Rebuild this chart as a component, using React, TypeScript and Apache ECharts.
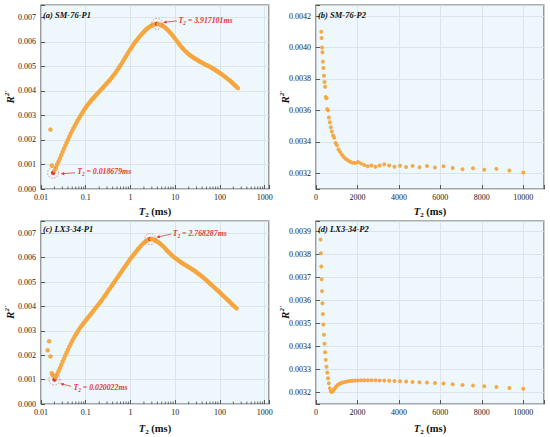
import React, { useEffect, useRef } from "react";
import * as echarts from "echarts";

// T2 grid (ms), index 0 corresponds to grid step k = 5
const K0 = 5;
const T2_MS = [
  0.01415, 0.01517, 0.01626, 0.01743, 0.018679, 0.020022, 0.02146, 0.023, 0.02466, 0.02643,
  0.02833, 0.03037, 0.03255, 0.03489, 0.0374, 0.04009, 0.04297, 0.04606, 0.04937, 0.05292,
  0.05672, 0.0608, 0.06517, 0.06986, 0.07488, 0.08026, 0.08603, 0.09222, 0.09885, 0.106,
  0.1136, 0.1217, 0.1305, 0.1399, 0.1499, 0.1607, 0.1723, 0.1846, 0.1979, 0.2121,
  0.2274, 0.2437, 0.2613, 0.2801, 0.3002, 0.3218, 0.3449, 0.3697, 0.3963, 0.4248,
  0.4553, 0.488, 0.5231, 0.5607, 0.601, 0.6442, 0.6906, 0.7402, 0.7934, 0.8505,
  0.9116, 0.9771, 1.047, 1.123, 1.203, 1.29, 1.383, 1.482, 1.589, 1.703,
  1.825, 1.956, 2.097, 2.248, 2.409, 2.583, 2.768287, 2.967, 3.181, 3.409,
  3.654, 3.917101, 4.199, 4.501, 4.824, 5.171, 5.543, 5.941, 6.368, 6.826,
  7.317, 7.843, 8.407, 9.011, 9.659, 10.35, 11.1, 11.9, 12.75, 13.67,
  14.65, 15.7, 16.83, 18.04, 19.34, 20.73, 22.22, 23.82, 25.53, 27.36,
  29.33, 31.44, 33.7, 36.12, 38.72, 41.5, 44.49, 47.69, 51.11, 54.79,
  58.73, 62.95, 67.48, 72.33, 77.53, 83.1, 89.07, 95.48, 102.3, 109.7,
  117.6, 126.0, 135.1, 144.8, 155.2, 166.4, 178.3, 191.2, 204.9, 219.6,
  235.4, 252.4, 270.5, 289.9, 310.8, 333.1, 357.1, 382.8, 410.3, 439.8,
  471.4, 505.3, 541.6, 580.5, 622.3, 667.0, 714.9, 766.3, 821.4, 880.5,
  943.8, 1011.6, 1084.4, 1162.3, 1245.9, 1335.4, 1431.5, 1534.4, 1644.7, 1762.9,
  1889.7, 2025.5, 2171.1, 2327.2, 2494.5, 2673.8, 2866.1, 3072.1, 3293.0, 3529.7,
  3783.5, 4055.5, 4347.0, 4659.5, 4994.5, 5353.6, 5738.4, 6151.0, 6593.2, 7067.2,
  7575.3, 8119.8, 8703.6, 9329.3, 10000,
];

// (a) SM-76-P1, starts at k = 7
const A_START = 7;
const A_R2 = [
  0.00242, 0.00096, 0.00066, 0.00076, 0.00088, 0.001, 0.00112, 0.00125, 0.00138, 0.00151,
  0.00164, 0.00177, 0.00189, 0.00201, 0.00213, 0.00225, 0.00236, 0.00247, 0.00257, 0.00267,
  0.00277, 0.00287, 0.00296, 0.00305, 0.00314, 0.00323, 0.00331, 0.00339, 0.00346, 0.00353,
  0.0036, 0.00366, 0.00372, 0.00378, 0.00384, 0.0039, 0.00396, 0.00402, 0.00408, 0.00414,
  0.0042, 0.00426, 0.00432, 0.00438, 0.00444, 0.00451, 0.00458, 0.00465, 0.00472, 0.0048,
  0.00488, 0.00496, 0.00505, 0.00514, 0.00523, 0.00532, 0.00541, 0.0055, 0.00559, 0.00568,
  0.00576, 0.00584, 0.00592, 0.006, 0.00607, 0.00614, 0.00621, 0.00627, 0.00633, 0.00639,
  0.00645, 0.0065, 0.00655, 0.00659, 0.00663, 0.00666, 0.00669, 0.00671, 0.00672, 0.00673,
  0.00672, 0.00671, 0.00669, 0.00666, 0.00662, 0.00658, 0.00653, 0.00648, 0.00642, 0.00636,
  0.0063, 0.00623, 0.00616, 0.00608, 0.00601, 0.00594, 0.00587, 0.0058, 0.00574, 0.00568,
  0.00562, 0.00557, 0.00552, 0.00547, 0.00543, 0.00539, 0.00536, 0.00532, 0.00529, 0.00526,
  0.00522, 0.00519, 0.00516, 0.00513, 0.0051, 0.00507, 0.00504, 0.00502, 0.00499, 0.00496,
  0.00492, 0.00489, 0.00486, 0.00482, 0.00479, 0.00475, 0.00472, 0.00468, 0.00464, 0.00459,
  0.00455, 0.00451, 0.00446, 0.00442, 0.00437, 0.00432, 0.00427, 0.00422, 0.00417, 0.00411,
];

// (b) SM-76-P2, starts at k = 146
const B_START = 146;
const B_R2 = [
  0.0041, 0.00406, 0.004, 0.00397, 0.00391, 0.00387, 0.00382, 0.00378, 0.00375, 0.003685,
  0.003677, 0.003608, 0.0036, 0.003555, 0.003524, 0.003493, 0.003466, 0.00344, 0.003426, 0.003392,
  0.003378, 0.003351, 0.003336, 0.003319, 0.003304, 0.003292, 0.003283, 0.003273, 0.003267, 0.003265,
  0.003272, 0.003262, 0.003252, 0.003245, 0.00325, 0.003242, 0.00325, 0.003258, 0.00325, 0.003242,
  0.003248, 0.00324, 0.003247, 0.003238, 0.003246, 0.003237, 0.003244, 0.003234, 0.003225, 0.003232,
  0.003222, 0.003228, 0.003218, 0.003205,
];

// (c) LX3-34-P1, starts at k = 5
const C_START = 5;
const C_R2 = [
  0.0022, 0.00257, 0.00195, 0.00126, 0.00116, 0.001, 0.0011, 0.00122, 0.00134, 0.00147,
  0.0016, 0.00173, 0.00186, 0.00199, 0.00211, 0.00223, 0.00235, 0.00246, 0.00257, 0.00267,
  0.00277, 0.00286, 0.00295, 0.00304, 0.00312, 0.0032, 0.00327, 0.00334, 0.00341, 0.00348,
  0.00355, 0.00362, 0.00369, 0.00376, 0.00383, 0.0039, 0.00397, 0.00404, 0.00411, 0.00418,
  0.00425, 0.00433, 0.00441, 0.00449, 0.00457, 0.00465, 0.00473, 0.00481, 0.00489, 0.00497,
  0.00505, 0.00513, 0.00521, 0.00529, 0.00537, 0.00545, 0.00553, 0.00561, 0.00569, 0.00577,
  0.00585, 0.00593, 0.006, 0.00607, 0.00614, 0.00621, 0.00628, 0.00635, 0.00641, 0.00648,
  0.00654, 0.00659, 0.00664, 0.00668, 0.00672, 0.00675, 0.00676, 0.00676, 0.00675, 0.00673,
  0.0067, 0.00667, 0.00663, 0.00659, 0.00654, 0.00649, 0.00644, 0.00638, 0.00631, 0.00626,
  0.0062, 0.00615, 0.0061, 0.00605, 0.006, 0.00596, 0.00592, 0.00588, 0.00584, 0.0058,
  0.00577, 0.00573, 0.0057, 0.00566, 0.00563, 0.00559, 0.00556, 0.00552, 0.00549, 0.00545,
  0.00541, 0.00537, 0.00533, 0.00529, 0.00524, 0.0052, 0.00515, 0.0051, 0.00505, 0.005,
  0.00495, 0.0049, 0.00485, 0.0048, 0.00475, 0.0047, 0.00465, 0.0046, 0.00455, 0.0045,
  0.00444, 0.00439, 0.00434, 0.00429, 0.00423, 0.00418, 0.00413, 0.00407, 0.00402, 0.00397,
  0.00392,
];

// (d) LX3-34-P2, starts at k = 144
const D_START = 144;
const D_R2 = [
  0.003865, 0.003806, 0.003748, 0.003693, 0.003641, 0.003588, 0.003541, 0.003496, 0.003451, 0.003412,
  0.003375, 0.003342, 0.003312, 0.003287, 0.003262, 0.00324, 0.003218, 0.003205, 0.003202, 0.003207,
  0.003215, 0.003223, 0.00323, 0.003235, 0.003239, 0.003242, 0.003245, 0.003247, 0.003249, 0.00325,
  0.003251, 0.003252, 0.003252, 0.003253, 0.003253, 0.003253, 0.003253, 0.003253, 0.003252, 0.003252,
  0.003251, 0.00325, 0.003249, 0.003248, 0.003246, 0.003245, 0.003243, 0.003241, 0.003239, 0.003236,
  0.003233, 0.00323, 0.003227, 0.003224, 0.00322, 0.003216,
];

const PANEL_TITLES = ["(a) SM-76-P1", "(b) SM-76-P2", "(c) LX3-34-P1", "(d) LX3-34-P2"];
const LOG_LABELS = ["0.01", "0.1", "1", "10", "100", "1000"];
const MINOR_TICKS = [
  0.02, 0.03, 0.04, 0.05, 0.06, 0.07, 0.08, 0.09,
  0.2, 0.3, 0.4, 0.5, 0.6, 0.7, 0.8, 0.9,
  2, 3, 4, 5, 6, 7, 8, 9,
  20, 30, 40, 50, 60, 70, 80, 90,
  200, 300, 400, 500, 600, 700, 800, 900,
];

// annotated minima / maxima: panel, grid step k, label
const ANNOTATIONS = [
  { panel: 0, k: 9, label: "0.018679ms", tip: [7.5, 1], tail: [22, 0], text: [24, -1] },
  { panel: 0, k: 86, label: "3.917101ms", tip: [6, -1.5], tail: [20, -3], text: [21.5, -3] },
  { panel: 2, k: 10, label: "0.020022ms", tip: [5.6, 4], tail: [16.6, 6.7], text: [19, 7.4] },
  { panel: 2, k: 81, label: "2.768287ms", tip: [6, -1.7], tail: [21, -5], text: [22.5, -5.7] },
];

const FONT = '"Liberation Serif", "Times New Roman", serif';
const ORANGE = "#f5a53c";
const RED = "#e23a36";

const PANELS = [
  { start: A_START, values: A_R2 },
  { start: B_START, values: B_R2 },
  { start: C_START, values: C_R2 },
  { start: D_START, values: D_R2 },
];

function pointOf(panel: number, k: number): [number, number] {
  const p = PANELS[panel];
  return [T2_MS[k - K0], p.values[k - p.start]];
}

const tickLabel = { fontFamily: FONT, fontSize: 8, color: "#222" };

const xNameRich = {
  t: { fontFamily: FONT, fontSize: 10.5, fontWeight: "bold", fontStyle: "italic", color: "#111", lineHeight: 14 },
  s: { fontFamily: FONT, fontSize: 7, fontWeight: "bold", color: "#111", lineHeight: 7, verticalAlign: "bottom" },
  n: { fontFamily: FONT, fontSize: 10.5, fontWeight: "bold", color: "#111", lineHeight: 14 },
};
const yNameRich = {
  r: { fontFamily: FONT, fontSize: 11, fontWeight: "bold", fontStyle: "italic", color: "#111", lineHeight: 14 },
  s: { fontFamily: FONT, fontSize: 7, fontWeight: "bold", fontStyle: "italic", color: "#111", lineHeight: 7, verticalAlign: "top" },
};

function isMultiple(v: number, step: number) {
  const q = v / step;
  return Math.abs(q - Math.round(q)) < 1e-6;
}

export default function App() {
  const ref = useRef<HTMLDivElement>(null);

  useEffect(() => {
    if (!ref.current) return;
    const chart = echarts.init(ref.current, undefined, { renderer: "svg" });

    const gridBoxes = [
      { left: 41, top: 5, width: 228, height: 184 },
      { left: 316, top: 5, width: 228, height: 184 },
      { left: 41, top: 221, width: 228, height: 183 },
      { left: 316, top: 221, width: 228, height: 183 },
    ];
    const grid = gridBoxes.map((g) => ({
      ...g,
      show: true,
      backgroundColor: "#eef7fb",
      borderColor: "#5c5c5c",
      borderWidth: 1.2,
      containLabel: false,
      outerBoundsMode: "none",
    }));

    const common = (i: number) => ({
      gridIndex: i,
      axisLine: { show: false },
      axisTick: { show: true, inside: true, length: 4, lineStyle: { color: "#333", width: 0.8 } },
      splitLine: { show: true, lineStyle: { color: "#d5dfe5", width: 0.8 } },
      nameMoveOverlap: false,
    });

    const xName = {
      name: "{t|T}{s|2}{n| (ms)}",
      nameLocation: "middle",
      nameTextStyle: { rich: xNameRich },
    };

    const xAxis = [0, 1, 2, 3].map((i) => {
      const gap = i < 2 ? 15 : 17;
      if (i === 0 || i === 2) {
        return {
          ...common(i),
          ...xName,
          nameGap: gap,
          type: "log",
          logBase: 10,
          min: 0.01,
          max: 1250,
          axisLabel: {
            ...tickLabel,
            margin: 4,
            formatter: (v: number) => {
              const e = Math.log10(v);
              if (Math.abs(e - Math.round(e)) > 0.01) return "";
              return LOG_LABELS[Math.round(e) + 2] ?? "";
            },
          },
        };
      }
      return {
        ...common(i),
        ...xName,
        nameGap: gap,
        type: "value",
        min: 0,
        max: 11000,
        interval: 2000,
        axisLabel: {
          ...tickLabel,
          margin: 4,
          formatter: (v: number) => (isMultiple(v, 2000) ? String(Math.round(v)) : ""),
        },
      };
    });

    const yName = {
      name: "{r|R}{s|2'}",
      nameLocation: "middle",
      nameRotate: 90,
      nameGap: 24,
      nameTextStyle: { rich: yNameRich },
    };

    const yAxis = [
      {
        ...common(0), ...yName, type: "value", min: 0, max: 0.0075, interval: 0.001,
        axisLabel: { ...tickLabel, margin: 5, formatter: (v: number) => (isMultiple(v, 0.001) ? v.toFixed(3) : "") },
      },
      {
        ...common(1), ...yName, type: "value", min: 0.0031, max: 0.00427, splitNumber: 6,
        axisLabel: { ...tickLabel, margin: 5, formatter: (v: number) => (isMultiple(v, 0.0002) ? v.toFixed(4) : "") },
      },
      {
        ...common(2), ...yName, type: "value", min: 0, max: 0.0075, interval: 0.001,
        axisLabel: { ...tickLabel, margin: 5, formatter: (v: number) => (isMultiple(v, 0.001) ? v.toFixed(3) : "") },
      },
      {
        ...common(3), ...yName, type: "value", min: 0.00315, max: 0.003946, splitNumber: 8,
        axisLabel: { ...tickLabel, margin: 5, formatter: (v: number) => (isMultiple(v, 0.0001) ? v.toFixed(4) : "") },
      },
    ];

    const highlighted = new Set(ANNOTATIONS.map((a) => `${a.panel}-${a.k}`));

    const scatterSeries = PANELS.map((p, i) => ({
      type: "scatter",
      xAxisIndex: i,
      yAxisIndex: i,
      symbol: "circle",
      symbolSize: i === 0 || i === 2 ? 4.5 : 4,
      itemStyle: { color: ORANGE, opacity: 0.95 },
      z: 3,
      data: p.values.map((v, j) => {
        const k = p.start + j;
        const item: any = { value: [T2_MS[k - K0], v] };
        if (highlighted.has(`${i}-${k}`)) item.itemStyle = { color: RED, opacity: 1 };
        return item;
      }),
    }));

    const minorTickSeries = [0, 2].map((i) => ({
      type: "custom",
      coordinateSystem: "cartesian2d",
      xAxisIndex: i,
      yAxisIndex: i,
      silent: true,
      z: 5,
      data: MINOR_TICKS.map((v) => [v, 0]),
      renderItem: (_params: any, api: any) => {
        const pt = api.coord([api.value(0), api.value(1)]);
        return {
          type: "line",
          shape: { x1: pt[0], y1: pt[1], x2: pt[0], y2: pt[1] - 2.5 },
          style: { stroke: "#333", lineWidth: 0.7 },
        };
      },
    }));

    const titlePos = [
      [43, 15],
      [318, 15],
      [43, 229],
      [318, 229],
    ];
    const titles = PANEL_TITLES.map((t, i) => ({
      type: "text",
      x: titlePos[i][0],
      y: titlePos[i][1],
      z: 10,
      style: {
        text: t,
        font: `italic bold 8.5px ${FONT}`,
        fill: "#111",
        verticalAlign: "middle",
      },
    }));

    chart.setOption({
      animation: false,
      grid,
      xAxis,
      yAxis,
      series: [...scatterSeries, ...minorTickSeries],
      graphic: titles,
    });

    // annotations anchored on the data points
    const annRich = {
      t: { fontFamily: FONT, fontSize: 7.8, fontWeight: "bold", fontStyle: "italic", fill: RED, lineHeight: 10 },
      s: { fontFamily: FONT, fontSize: 5.2, fontWeight: "bold", fontStyle: "italic", fill: RED, lineHeight: 5, verticalAlign: "bottom" },
    };
    const annGfx: any[] = [];
    ANNOTATIONS.forEach((a) => {
      const [xv, yv] = pointOf(a.panel, a.k);
      const p = chart.convertToPixel({ xAxisIndex: a.panel, yAxisIndex: a.panel } as any, [xv, yv]) as number[];
      if (!p) return;
      const [px, py] = p;
      annGfx.push({
        type: "circle",
        z: 10,
        shape: { cx: px, cy: py, r: 5.5 },
        style: { fill: "none", stroke: "#d9787a", lineWidth: 0.8, lineDash: [1.6, 1.4] },
      });
      const tip = [px + a.tip[0], py + a.tip[1]];
      const tail = [px + a.tail[0], py + a.tail[1]];
      const dx = tip[0] - tail[0];
      const dy = tip[1] - tail[1];
      const len = Math.hypot(dx, dy) || 1;
      const ux = dx / len;
      const uy = dy / len;
      const nx = -uy;
      const ny = ux;
      annGfx.push({
        type: "line",
        z: 10,
        shape: { x1: tail[0], y1: tail[1], x2: tip[0] - ux * 2.5, y2: tip[1] - uy * 2.5 },
        style: { stroke: RED, lineWidth: 0.8 },
      });
      annGfx.push({
        type: "polygon",
        z: 10,
        shape: {
          points: [
            [tip[0], tip[1]],
            [tip[0] - ux * 3.6 + nx * 1.6, tip[1] - uy * 3.6 + ny * 1.6],
            [tip[0] - ux * 3.6 - nx * 1.6, tip[1] - uy * 3.6 - ny * 1.6],
          ],
        },
        style: { fill: RED },
      });
      annGfx.push({
        type: "text",
        z: 10,
        x: px + a.text[0],
        y: py + a.text[1],
        style: {
          text: `{t|T}{s|2}{t| = ${a.label}}`,
          rich: annRich,
          verticalAlign: "middle",
          fill: RED,
        },
      });
    });

    chart.setOption({ graphic: [...titles, ...annGfx] });

    return () => chart.dispose();
  }, []);

  return (
    <div
      ref={ref}
      style={{ position: "fixed", left: 0, top: 0, width: 550, height: 437, background: "#fff" }}
    />
  );
}
